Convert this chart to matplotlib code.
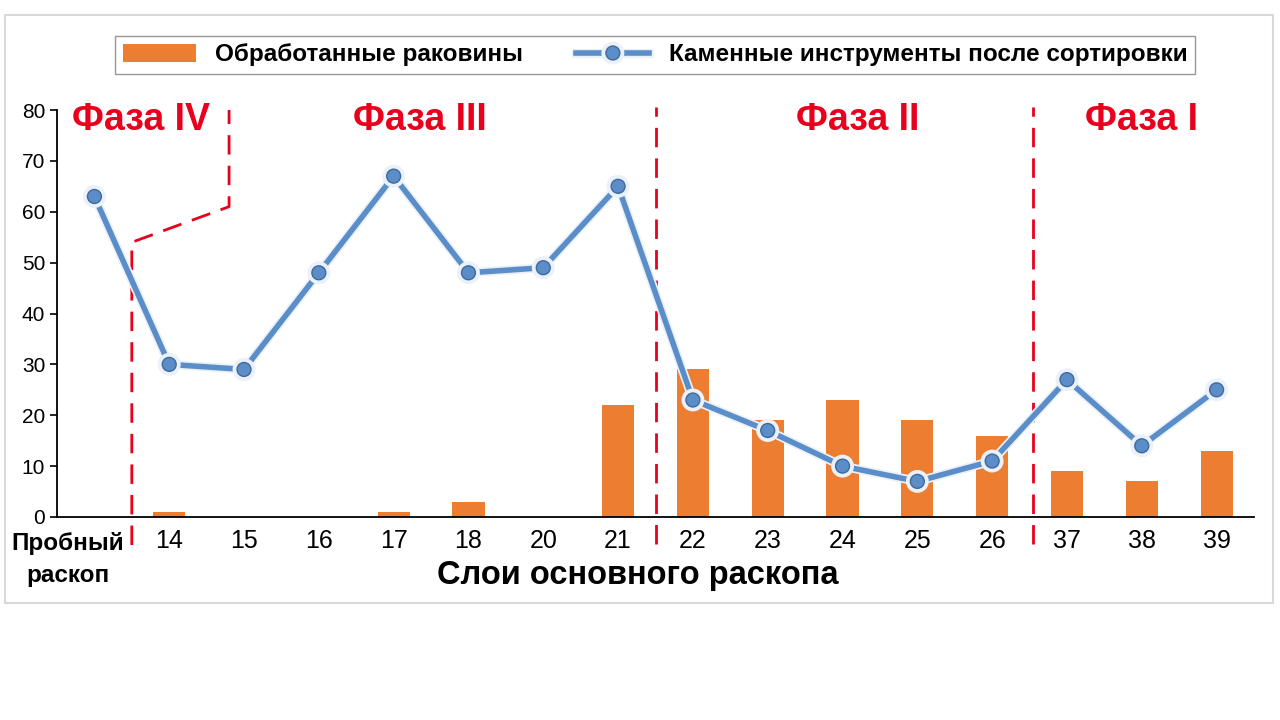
import numpy as np
import matplotlib
matplotlib.use("Agg")
import matplotlib.pyplot as plt
import matplotlib.patheffects as pe
from matplotlib.patches import Rectangle

plt.rcParams['font.family'] = ['Liberation Sans', 'DejaVu Sans']

# data
layers = ["Пробный\nраскоп", "14", "15", "16", "17", "18", "20", "21",
          "22", "23", "24", "25", "26", "37", "38", "39"]
shells = [0, 1, 0, 0, 1, 3, 0, 22, 29, 19, 23, 19, 16, 9, 7, 13]
tools = [63, 30, 29, 48, 67, 48, 49, 65, 23, 17, 10, 7, 11, 27, 14, 25]
phase_names = ["Фаза IV", "Фаза III", "Фаза II", "Фаза I"]
phase_pos = [0.62, 4.35, 10.2, 14.0]
bounds = [7.5, 12.55]
# bent boundary between phase IV and III
bent_x = [0.5, 0.5, 1.8, 1.8]
bent_y = [-5.5, 54, 61, 80]

ORANGE = "#EC7D31"
BLUE = "#5B8EC8"
RED = "#E8001C"

fig = plt.figure(figsize=(12.8, 7.2), dpi=100)
fig.patches.append(Rectangle((5 / 1280, 1 - 603 / 720), 1268 / 1280, 588 / 720,
                             transform=fig.transFigure, fill=False,
                             edgecolor="#D9D9D9", linewidth=1.5))

ax = fig.add_axes([57 / 1280, 1 - 517 / 720, 1197 / 1280, 407 / 720])
x = np.arange(len(layers))

bars = ax.bar(x, shells, width=0.43, color=ORANGE, zorder=2,
              label="Обработанные раковины")
line, = ax.plot(x, tools, color=BLUE, linewidth=4, marker="o", markersize=10,
                markerfacecolor=BLUE, markeredgecolor="#41699A", zorder=4,
                label="Каменные инструменты после сортировки",
                path_effects=[pe.Stroke(linewidth=6.5, foreground="#EAF1FA"), pe.Normal()])

ax.set_xlim(-0.5, len(layers) - 0.5)
ax.set_ylim(0, 80)
ax.set_yticks(range(0, 81, 10))
ax.tick_params(axis="y", labelsize=15, length=5, width=1.2)
ax.tick_params(axis="x", length=0, labelsize=18, pad=9)
ax.set_xticks(x)
ax.set_xticklabels([""] + layers[1:])
# first category label sits left of its slot, like in the source
ax.text(-0.36, -0.038, layers[0], transform=ax.get_xaxis_transform(),
        ha="center", va="top", fontsize=17.5, fontweight="bold", linespacing=1.45)
for s in ["top", "right"]:
    ax.spines[s].set_visible(False)
ax.spines["left"].set_linewidth(1.3)
ax.spines["bottom"].set_linewidth(1.3)

ax.set_xlabel("Слои основного раскопа", fontsize=23.5, fontweight="bold")
ax.xaxis.set_label_coords((638 - 57) / 1197, -0.105)

# phase boundaries
dash = (0, (7, 4))
ax.plot(bent_x, bent_y, color=RED, linewidth=2, linestyle=dash,
        clip_on=False, zorder=3)
for b in bounds:
    ax.plot([b, b], [-5.3, 80.5], color=RED, linewidth=2, linestyle=dash,
            clip_on=False, zorder=3)

for name, px in zip(phase_names, phase_pos):
    ax.text(px, 78, name, color=RED, fontsize=27, fontweight="bold",
            ha="center", va="center", zorder=5)

fig.legend(handles=[bars, line], loc="center", bbox_to_anchor=(655 / 1280, 1 - 55 / 720),
           ncol=2, frameon=True, fancybox=False, edgecolor="#7F7F7F",
           prop={"size": 17.5, "weight": "bold"}, handlelength=3.0,
           columnspacing=2.2, borderpad=0.3)

fig.savefig("out.png", dpi=100)
